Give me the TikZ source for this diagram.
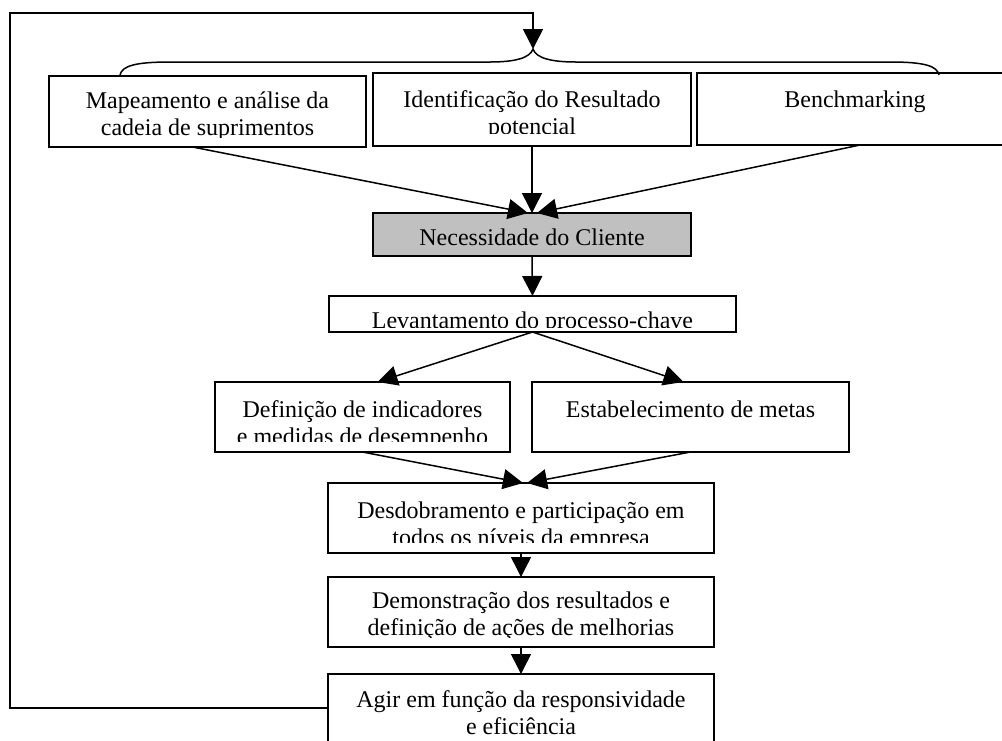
\documentclass[tikz,border=0pt]{standalone}
\usepackage{fontspec}
\setmainfont{Liberation Serif}
\usetikzlibrary{arrows.meta,calc}
\definecolor{necgray}{RGB}{192,192,192}
\begin{document}
\begin{tikzpicture}[x=1pt,y=-1pt,
  box/.style={draw, line width=1.6pt, inner sep=0pt, outer sep=0pt, anchor=north west},
  txt/.style={anchor=base, inner sep=0pt, font=\fontsize{24}{27}\selectfont},
  arr/.style={line width=1.5pt, -{Triangle[length=20pt,width=20pt]}},
  ln/.style={line width=1.5pt}]
\useasboundingbox (0,0) rectangle (1002,740);
% boxes
\node[box, minimum width=317pt, minimum height=71pt] (b1) at (49,76) {};
\node[box, minimum width=318pt, minimum height=73pt] (b2) at (373,73) {};
\node[box, minimum width=316pt, minimum height=72pt] (b3) at (697,73) {};
\node[box, fill=necgray, minimum width=318pt, minimum height=43pt] (nec) at (373,213) {};
\node[box, minimum width=407pt, minimum height=36pt] (lev) at (329,296) {};
\node[box, minimum width=295pt, minimum height=70pt] (def) at (215,382) {};
\node[box, minimum width=317pt, minimum height=70pt] (est) at (532,382) {};
\node[box, minimum width=386pt, minimum height=70pt] (des) at (328,483) {};
\node[box, minimum width=386pt, minimum height=70pt] (dem) at (328,577) {};
\node[box, minimum width=386pt, minimum height=68pt] (agi) at (328,674) {};
% texts
\begin{scope}
  \clip (51,78) rectangle (364,137);
  \node[txt] (t1a) at (207.5,108) {Mapeamento e análise da};
  \node[txt] (t1b) at (207.5,135) {cadeia de suprimentos};
\end{scope}
\begin{scope}
  \clip (375,75) rectangle (689,133);
  \node[txt] (t2a) at (532,107) {Identificação do Resultado};
  \node[txt] (t2b) at (532,134) {potencial};
\end{scope}
\node[txt] (t3) at (855,107) {Benchmarking};
\node[txt] (tn) at (532,245.5) {Necessidade do Cliente};
\begin{scope}
  \clip (331,298) rectangle (734,327);
  \node[txt] (tl) at (532.5,328.5) {Levantamento do processo-chave};
\end{scope}
\begin{scope}
  \clip (217,384) rectangle (508,441);
  \node[txt] (td1) at (362.5,417) {Definição de indicadores};
  \node[txt] (td2) at (362.5,444) {e medidas de desempenho};
\end{scope}
\node[txt] (te) at (690.5,417) {Estabelecimento de metas};
\begin{scope}
  \clip (330,485) rectangle (712,542);
  \node[txt] (tds1) at (521,518.5) {Desdobramento e participação em};
  \node[txt] (tds2) at (521,545.5) {todos os níveis da empresa};
\end{scope}
\begin{scope}
  \clip (330,579) rectangle (712,637);
  \node[txt] (tdm1) at (521,608.5) {Demonstração dos resultados e};
  \node[txt] (tdm2) at (521,635.5) {definição de ações de melhorias};
\end{scope}
\node[txt] (ta1) at (521,707.5) {Agir em função da responsividade};
\node[txt] (ta2) at (521,734.5) {e eficiência};
% brace
\coordinate (tip) at (533,49);
\draw[ln] (120,75) .. controls (122,66) and (135,62) .. (170,62) -- (490,62)
  .. controls (515,62) and (530,58) .. (tip)
  .. controls (536,58) and (551,62) .. (576,62) -- (890,62)
  .. controls (925,62) and (937,66) .. (939,75);
% feedback loop
\coordinate (c1) at (10,708);
\coordinate (c2) at (10,13);
\coordinate (c3) at (533,13);
\draw[arr] (agi.west) -- (c1) -- (c2) -- (c3) -- (tip);
% arrows
\draw[arr] ($(b1.south)+(-15,0)$) -- ($(nec.north)+(-4,0)$);
\draw[arr] (b2.south) -- (nec.north);
\draw[arr] ($(b3.south)+(5,0)$) -- ($(nec.north)+(5,0)$);
\draw[arr] (nec.south) -- (lev.north);
\draw[arr] (lev.south) -- ($(def.north)+(15,0)$);
\draw[arr] (lev.south) -- ($(est.north)+(-7,0)$);
\draw[arr] (def.south) -- ($(des.north)+(2,0)$);
\draw[arr] (est.south) -- ($(des.north)+(6,0)$);
\draw[arr] (des.south) -- (dem.north);
\draw[arr] (dem.south) -- (agi.north);
\end{tikzpicture}
\end{document}
